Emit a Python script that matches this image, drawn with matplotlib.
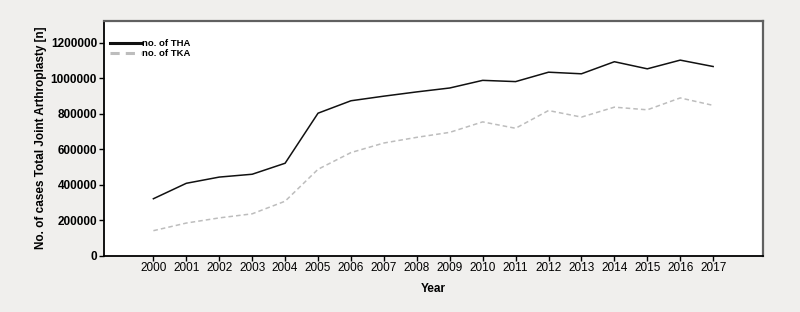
import matplotlib.pyplot as plt

years = list(range(2000, 2018))
tha = [320000, 407000, 442000, 458000, 520000, 802000, 872000, 898000, 922000,
       944000, 987000, 980000, 1033000, 1024000, 1092000, 1052000, 1101000, 1065000]
tka = [140000, 183000, 212000, 235000, 306000, 486000, 580000, 634000, 666000,
       694000, 753000, 717000, 817000, 780000, 836000, 821000, 888000, 846000]
yticks = [0, 200000, 400000, 600000, 800000, 1000000, 1200000]

plt.rcParams['font.family'] = ['Liberation Sans', 'DejaVu Sans']

fig = plt.figure(figsize=(8, 3.12), dpi=100, facecolor="#f0efed")
ax = fig.add_axes([0.13, 0.181, 0.824, 0.752])
ax.set_facecolor("white")

ax.plot(years, tha, color="#111111", linewidth=1.1, label="no. of THA")
ax.plot(years, tka, color="#bdbdbd", linewidth=1.1, linestyle=(0, (3, 2)), label="no. of TKA")

ax.set_xlim(1998.5, 2018.52)
ax.set_ylim(0, 1322000)
ax.set_xticks(years)
ax.set_xticklabels([str(y) for y in years], fontsize=8.5)
ax.set_yticks(yticks)
ax.set_yticklabels([str(v) for v in yticks], fontsize=8.5, fontweight="bold")
ax.tick_params(direction="out", length=3.5, width=1, colors="black", pad=1.5)

for side in ["left", "bottom"]:
    ax.spines[side].set_color("black")
    ax.spines[side].set_linewidth(1.3)
for side in ["top", "right"]:
    ax.spines[side].set_color("#606060")
    ax.spines[side].set_linewidth(1.6)

ax.set_xlabel("Year", fontsize=8.5, fontweight="bold", labelpad=6)
ax.set_ylabel("No. of cases Total Joint Arthroplasty [n]", fontsize=8.5,
              fontweight="bold", labelpad=3)

leg = ax.legend(loc="upper left", frameon=False,
                prop={"size": 6.8, "weight": "bold"}, handlelength=3.3,
                handletextpad=0.1, borderaxespad=0.2, labelspacing=0.08,
                bbox_to_anchor=(0.0, 0.945))
for h in leg.get_lines():
    h.set_linewidth(2.2)

fig.savefig("out.png", dpi=100, facecolor=fig.get_facecolor())
